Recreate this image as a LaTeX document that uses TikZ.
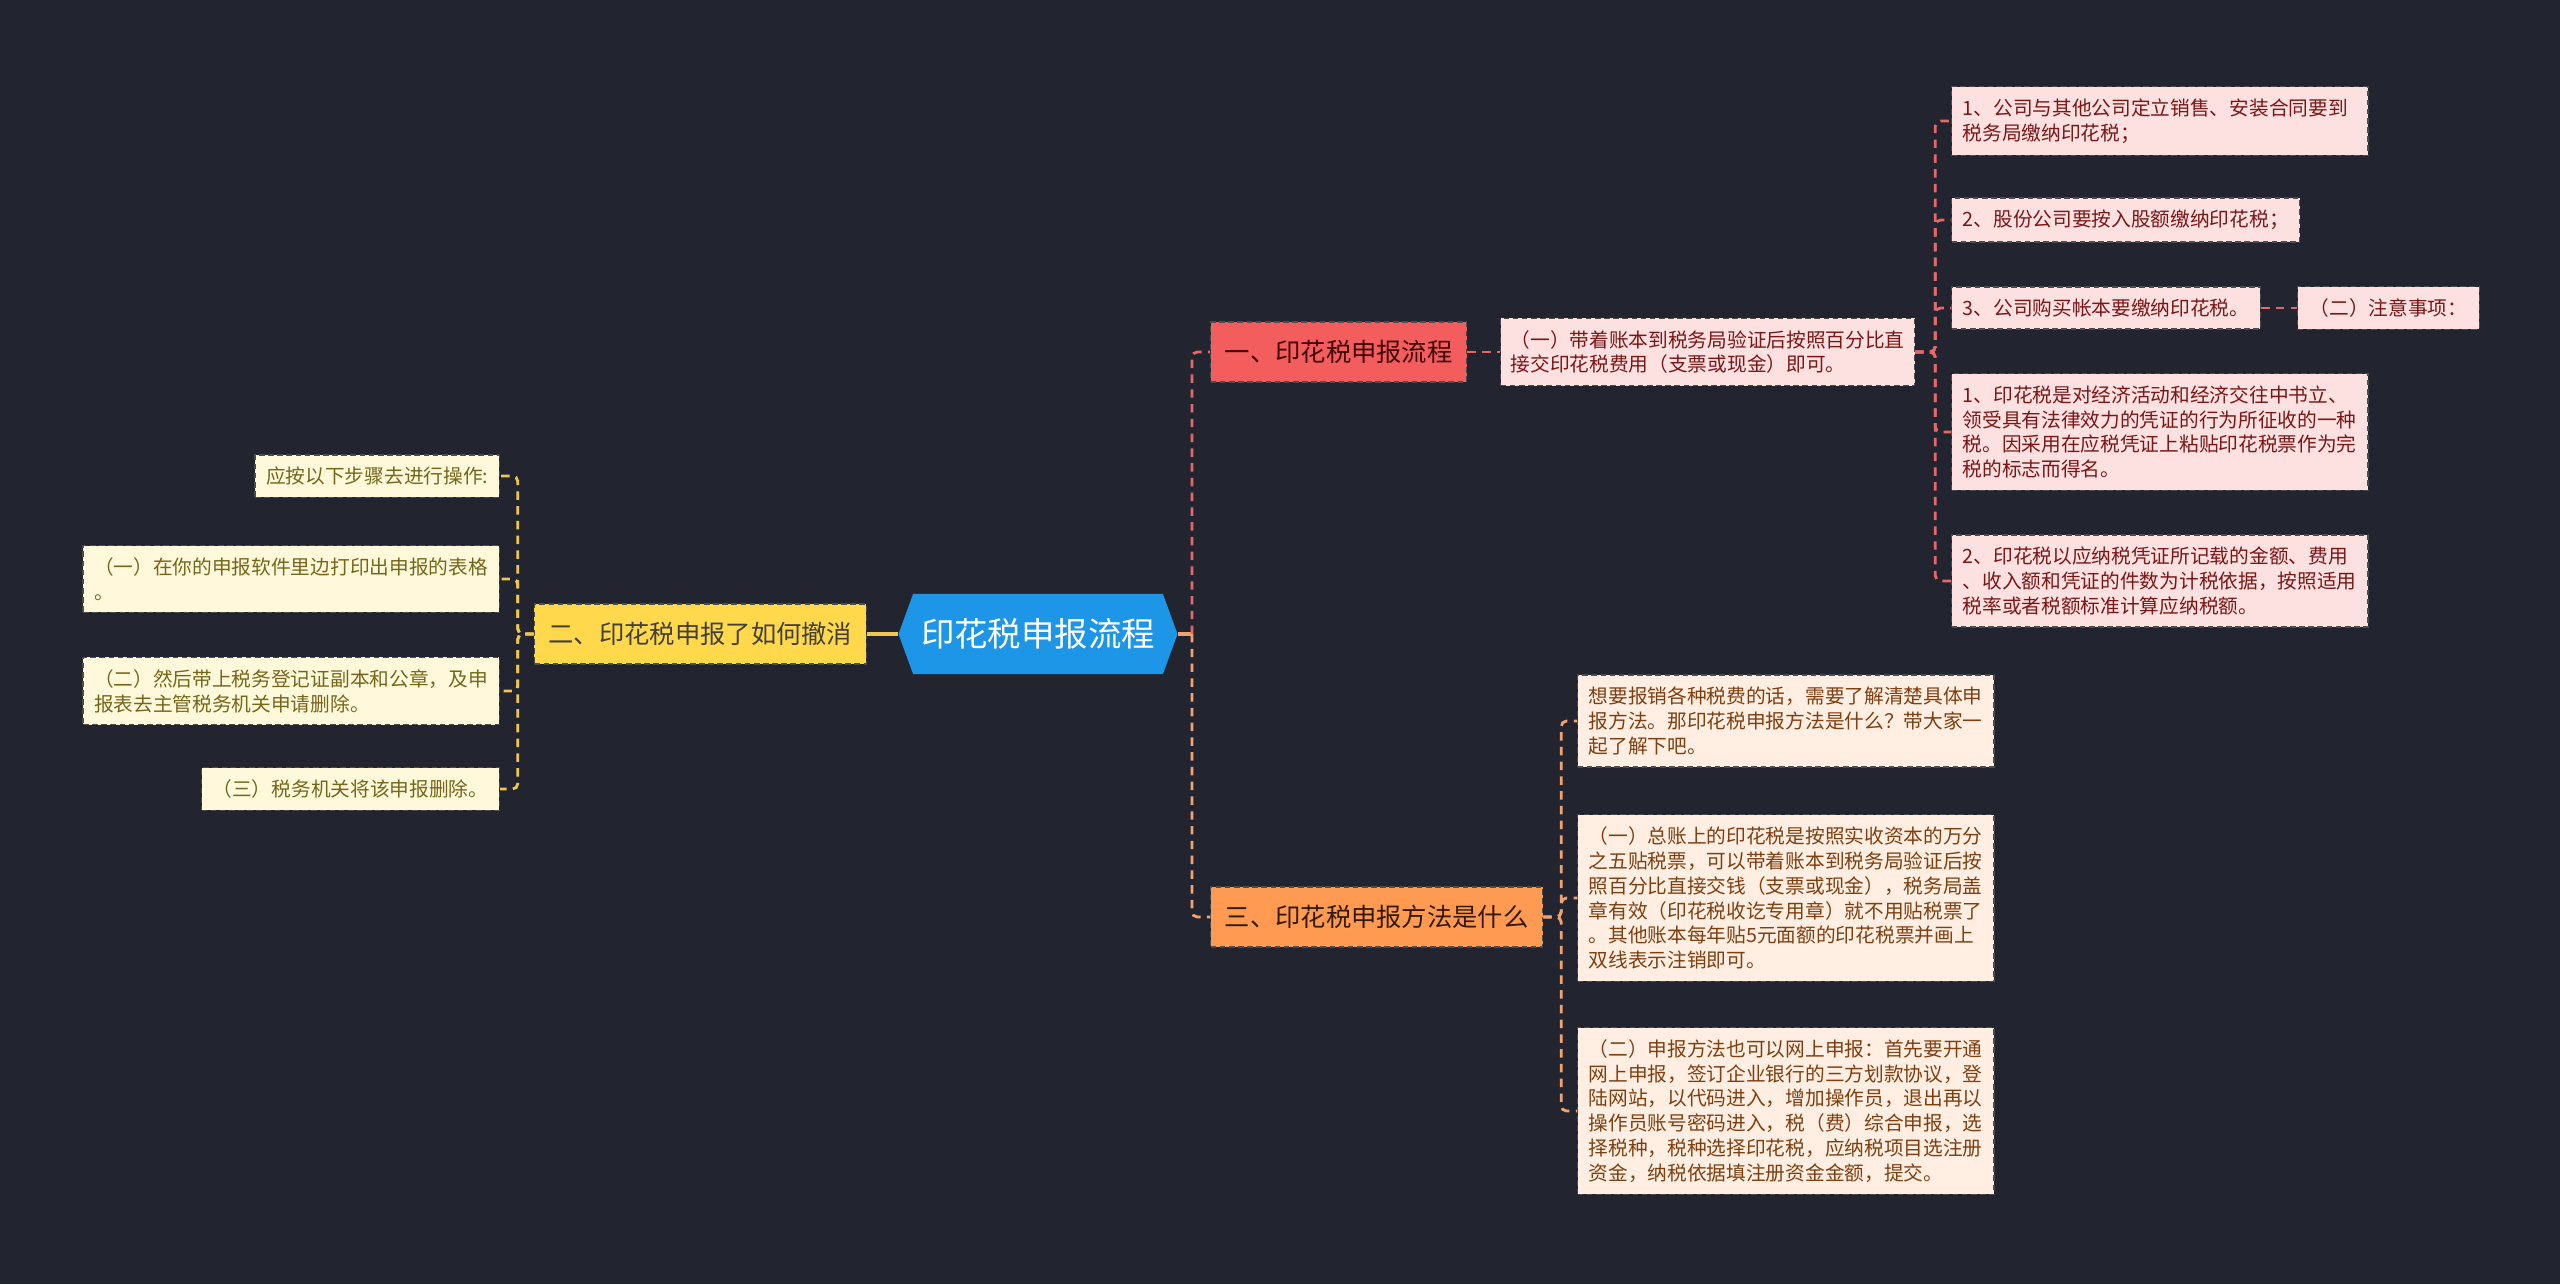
\documentclass[tikz,border=0pt]{standalone}
\usepackage{fontspec}
\setmainfont{Noto Sans CJK SC}
\usetikzlibrary{positioning, shapes.symbols}

\definecolor{bgnavy}{HTML}{22252F}
\definecolor{rootblue}{HTML}{1E96E8}
\definecolor{redfill}{HTML}{F45D5D}
\definecolor{redleaf}{HTML}{FDE1E1}
\definecolor{redtext}{HTML}{7A1616}
\definecolor{redline}{HTML}{E46868}
\definecolor{orgfill}{HTML}{FF9A52}
\definecolor{orgleaf}{HTML}{FFEEE1}
\definecolor{orgtext}{HTML}{7E3F10}
\definecolor{orgline}{HTML}{F2A26E}
\definecolor{yelfill}{HTML}{FFD84C}
\definecolor{yelleaf}{HTML}{FFF8DA}
\definecolor{yeltext}{HTML}{76661A}
\definecolor{yelline}{HTML}{EDC654}

\begin{document}
\begin{tikzpicture}[
  x=0.01cm, y=-0.01cm,
  font=\fontsize{5.6pt}{7.05pt}\selectfont,
  root/.style={signal, signal to=west and east, signal pointer angle=140, fill=rootblue, text=white, minimum width=2.6cm, minimum height=0.8cm, inner xsep=0.08cm, font=\fontsize{9.5pt}{11pt}\selectfont},
  branch/.style={draw=black!70, dashed, dash pattern=on 1.6pt off 1pt, line width=0.4pt, minimum height=0.6cm, inner xsep=0.14cm, font=\fontsize{7.2pt}{9pt}\selectfont},
  leaf/.style={draw=black!70, dashed, dash pattern=on 1.6pt off 1pt, line width=0.4pt, align=left, inner xsep=0.11cm, inner ysep=0.12cm},
  wide/.style={text width=3.94cm},
  redleaf/.style={leaf, fill=redleaf, text=redtext, anchor=west},
  orgleaf/.style={leaf, wide, fill=orgleaf, text=orgtext, anchor=west},
  yelleaf/.style={leaf, fill=yelleaf, text=yeltext, anchor=east},
  link/.style={line width=0.8pt, dash pattern=on 2.4pt off 1.8pt, rounded corners=1.5pt},
  redlink/.style={link, draw=redline},
  orglink/.style={link, draw=orgline},
  yellink/.style={link, draw=yelline}
]
\fill[bgnavy] (0,0) rectangle (2560,1284);

% --- centre ---
\node[root] (root) at (1038,634) {印花税申报流程};
\coordinate (rtrunk) at (1192,634);

% --- branch one ---
\node[branch, fill=redfill, text=black!75!red, anchor=west] (red) at (1210,352) {一、印花税申报流程};
\node[redleaf, inner xsep=0.1cm] (redc) at (1500,352) {（一）带着账本到税务局验证后按照百分比直\\接交印花税费用（支票或现金）即可。};
\node[redleaf, wide] (r1) at (1951,121) {1、公司与其他公司定立销售、安装合同要到\\税务局缴纳印花税；};
\node[redleaf] (r2) at (1951,220) {2、股份公司要按入股额缴纳印花税；};
\node[redleaf] (r3) at (1951,308) {3、公司购买帐本要缴纳印花税。};
\node[redleaf, inner xsep=0.12cm] (note) at (2297,308) {（二）注意事项：};
\node[redleaf, wide] (r4) at (1951,432) {1、印花税是对经济活动和经济交往中书立、\\领受具有法律效力的凭证的行为所征收的一种\\税。因采用在应税凭证上粘贴印花税票作为完\\税的标志而得名。};
\node[redleaf, wide] (r5) at (1951,581) {2、印花税以应纳税凭证所记载的金额、费用\\、收入额和凭证的件数为计税依据，按照适用\\税率或者税额标准计算应纳税额。};

% --- branch three ---
\node[branch, fill=orgfill, text=black!80!orange, anchor=west] (org) at (1210,917) {三、印花税申报方法是什么};
\node[orgleaf] (o1) at (1577,721) {想要报销各种税费的话，需要了解清楚具体申\\报方法。那印花税申报方法是什么？带大家一\\起了解下吧。};
\node[orgleaf] (o2) at (1577,898) {（一）总账上的印花税是按照实收资本的万分\\之五贴税票，可以带着账本到税务局验证后按\\照百分比直接交钱（支票或现金），税务局盖\\章有效（印花税收讫专用章）就不用贴税票了\\。其他账本每年贴5元面额的印花税票并画上\\双线表示注销即可。};
\node[orgleaf] (o3) at (1577,1111) {（二）申报方法也可以网上申报：首先要开通\\网上申报，签订企业银行的三方划款协议，登\\陆网站，以代码进入，增加操作员，退出再以\\操作员账号密码进入，税（费）综合申报，选\\择税种，税种选择印花税，应纳税项目选注册\\资金，纳税依据填注册资金金额，提交。};

% --- branch two ---
\node[branch, fill=yelfill, text=black!85!yellow, anchor=east] (yel) at (867,634) {二、印花税申报了如何撤消};
\node[yelleaf] (l1) at (500,476) {应按以下步骤去进行操作:};
\node[yelleaf, wide] (l2) at (500,579) {（一）在你的申报软件里边打印出申报的表格\\。};
\node[yelleaf, wide] (l3) at (500,691) {（二）然后带上税务登记证副本和公章，及申\\报表去主管税务机关申请删除。};
\node[yelleaf] (l4) at (500,789) {（三）税务机关将该申报删除。};

% --- links ---
\draw[line width=0.9pt, orgline] (root.east) -- (rtrunk);
\draw[redlink] (rtrunk) |- (red.west);
\draw[orglink] (rtrunk) |- (org.west);
\draw[line width=0.9pt, yelline] (root.west) -- (yel.east);

\draw[redlink] (red.east) -- (redc.west);
\foreach \n in {r1,r2,r3,r4,r5}
  \draw[redlink] (redc.east) -- ++(20,0) |- (\n.west);
\draw[redlink] (r3.east) -- (note.west);

\foreach \n in {o1,o2,o3}
  \draw[orglink] (org.east) -- ++(18,0) |- (\n.west);

\foreach \n in {l1,l2,l3,l4}
  \draw[yellink] (yel.west) -- ++(-16,0) |- (\n.east);
\end{tikzpicture}
\end{document}
